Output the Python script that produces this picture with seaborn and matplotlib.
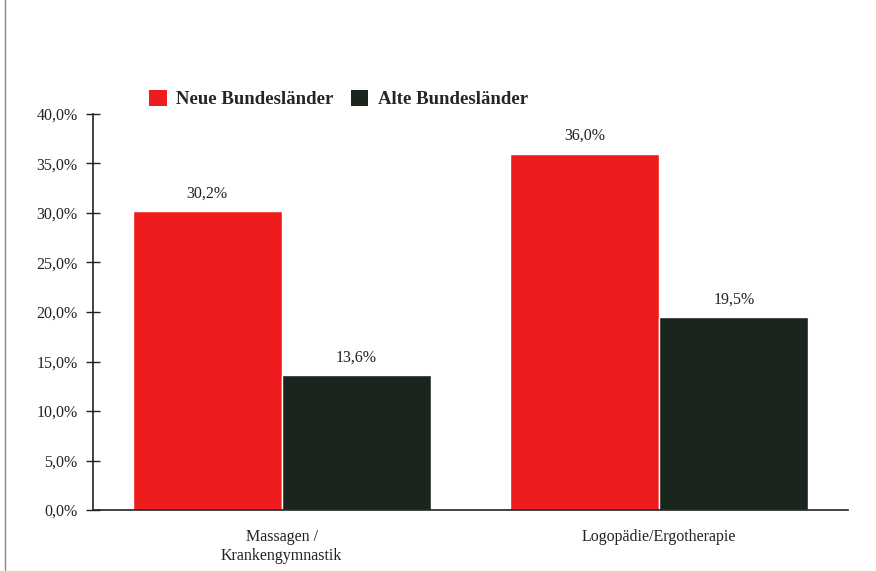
import matplotlib
matplotlib.use("Agg")
import matplotlib.pyplot as plt
import pandas as pd
import seaborn as sns
from matplotlib.lines import Line2D
from matplotlib.patches import Patch
from matplotlib.ticker import FuncFormatter

categories = ["Massagen /\nKrankengymnastik", "Logopädie/Ergotherapie"]
neue = [30.2, 36.0]
alte = [13.6, 19.5]
groups = ["Neue Bundesländer", "Alte Bundesländer"]
colors = {"Neue Bundesländer": "#ee1c1c", "Alte Bundesländer": "#1a261d"}

df = pd.DataFrame({
    "kategorie": categories * 2,
    "gruppe": [groups[0]] * 2 + [groups[1]] * 2,
    "wert": neue + alte,
})

sns.set_style("white")
plt.rcParams["font.family"] = ["Liberation Serif", "DejaVu Serif"]

fig = plt.figure(figsize=(8.76, 5.71), dpi=100)
ax = fig.add_axes([0.1062, 0.1068, 0.8618, 0.6936])

sns.barplot(df, x="kategorie", y="wert", hue="gruppe", palette=colors,
            width=0.79, gap=0, saturation=1, legend=False, ax=ax)

for cont in ax.containers:
    labels = [f"{v:.1f}%".replace(".", ",") for v in cont.datavalues]
    ax.bar_label(cont, labels=labels, padding=7, fontsize=11.5, color="#222222")

ax.set_xlim(-0.5, 1.5)
ax.set_ylim(0, 40)
ax.set_yticks(range(0, 41, 5))
ax.yaxis.set_major_formatter(FuncFormatter(lambda v, p: f"{v:.1f}%".replace(".", ",")))
ax.set_xticks([0, 1])
ax.set_xticklabels(categories, fontsize=11.5, color="#222222", linespacing=1.25)
ax.set_xticks([0.5, 1.5], minor=True)
ax.tick_params(axis="x", which="major", length=0, pad=14)
ax.tick_params(axis="x", which="minor", direction="inout", length=10, width=1, color="#222222")
ax.tick_params(axis="y", direction="inout", length=10, width=1, color="#222222",
               labelsize=11.5, labelcolor="#222222", pad=6)
ax.tick_params(left=True, bottom=True)
ax.set_xlabel("")
ax.set_ylabel("")
for side in ["top", "right"]:
    ax.spines[side].set_visible(False)
for side in ["left", "bottom"]:
    ax.spines[side].set_color("#222222")
    ax.spines[side].set_linewidth(1.2)

handles = [Patch(facecolor=colors[g], edgecolor="none") for g in groups]
fig.legend(handles, groups, loc="upper left", bbox_to_anchor=(0.151, 0.872), ncol=2,
           frameon=False, prop={"weight": "bold", "size": 13.5}, handlelength=0.95,
           handleheight=0.95, handletextpad=0.5, columnspacing=0.9)

# page border line from the scan
fig.add_artist(Line2D([0.006, 0.006], [0, 1], transform=fig.transFigure, color="#888888", lw=1))

fig.savefig("out.png", dpi=100)
